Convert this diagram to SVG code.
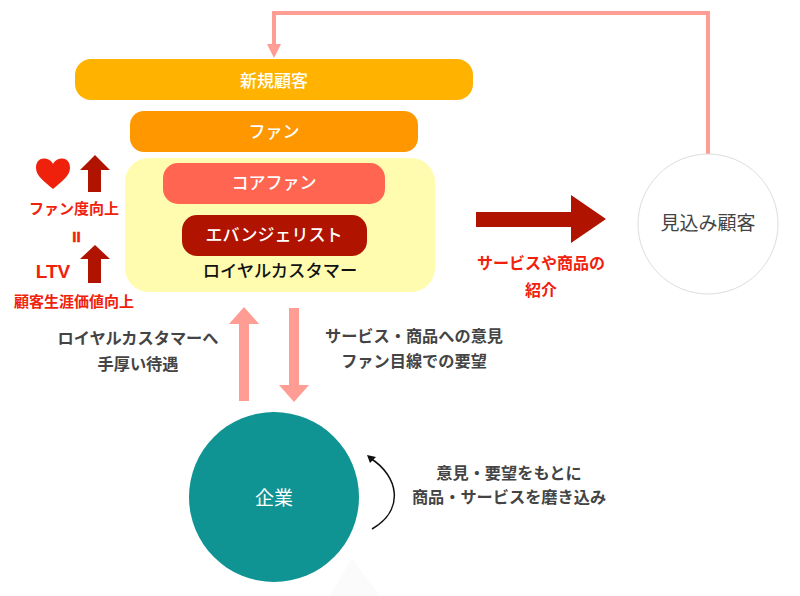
<svg xmlns="http://www.w3.org/2000/svg" width="800" height="596" viewBox="0 0 800 596">
<style>
text{font-family:"Noto Sans CJK JP","Liberation Sans",sans-serif;text-anchor:middle}
.w{fill:#fff;font-size:17px;font-weight:500}
.g{fill:#444;font-size:16.2px;font-weight:700}
.r{fill:#f0210c;font-size:15px;font-weight:700}
</style>
<rect width="800" height="596" fill="#fff"/>
<polygon points="352,558 330,596 380,596" fill="#fbfbfb"/>
<g id="connectors">
<path d="M708,156V13H274V48" fill="none" stroke="#ff9c94" stroke-width="4"/>
<polygon points="267,44 281,44 274,58" fill="#ff9c94"/>
<polygon points="476,212 571,212 571,195 606,219 571,243 571,227 476,227" fill="#b01300"/>
<polygon points="239,401 249,401 249,324 259,324 244,307 229,324 239,324" fill="#ff9c94"/>
<polygon points="289,308 299,308 299,385 309,385 294,402 279,385 289,385" fill="#ff9c94"/>
<polygon points="88,192 101,192 101,170 110,170 95,155 80,170 88,170" fill="#b01300"/>
<polygon points="88,283 101,283 101,259 110,259 95,245 80,259 88,259" fill="#b01300"/>
<path d="M372,529C405,510 399,476 370,458" fill="none" stroke="#111" stroke-width="1.5"/>
<polygon points="367,455 376,457 370,463" fill="#111"/>
</g>
<g id="new-customer"><rect x="75" y="59" width="398" height="41" rx="16" fill="#ffb300"/><text class="w" x="274" y="87">新規顧客</text></g>
<g id="fan"><rect x="130" y="111" width="288" height="41" rx="14" fill="#ff9800"/><text class="w" x="274" y="138">ファン</text></g>
<g id="loyal"><rect x="125" y="158" width="310" height="134" rx="24" fill="#fffcb0"/><text x="280" y="277" font-size="17.3" font-weight="500" fill="#111">ロイヤルカスタマー</text></g>
<g id="core-fan"><rect x="163" y="163" width="222" height="41" rx="15" fill="#ff6550"/><text class="w" x="274" y="189">コアファン</text></g>
<g id="evangelist"><rect x="182" y="215" width="185" height="41" rx="15" fill="#b01300"/><text class="w" x="274" y="241">エバンジェリスト</text></g>
<g id="prospect"><circle cx="708" cy="224" r="70" fill="#fff" stroke="#ddd"/><text x="708" y="230" font-size="19" fill="#444">見込み顧客</text></g>
<g id="company"><circle cx="274" cy="497" r="85" fill="#109393"/><text x="274" y="505" font-size="19" fill="#fff">企業</text></g>
<g id="labels">
<path d="M53,189C44,181 36,176 36,168C36,155 50,157 53,164C56,157 70,155 70,168C70,176 62,181 53,189Z" fill="#f0210c"/>
<text class="r" x="74" y="214">ファン度向上</text>
<text x="76.500" y="242" font-size="15" font-weight="700" fill="#f0210c" stroke="#f0210c" stroke-width=".5" style="font-family:'Liberation Sans'">II</text>
<text x="53" y="278" font-size="19" font-weight="700" fill="#f0210c" style="font-family:'Liberation Sans'">LTV</text>
<text class="r" x="74" y="307">顧客生涯価値向上</text>
<text class="r" x="541" y="269" style="font-size:16px">サービスや商品の</text>
<text class="r" x="541" y="296" style="font-size:16px">紹介</text>
<text class="g" x="138" y="344">ロイヤルカスタマーへ</text>
<text class="g" x="138" y="370">手厚い待遇</text>
<text class="g" x="414" y="342">サービス・商品への意見</text>
<text class="g" x="414" y="367">ファン目線での要望</text>
<text class="g" x="509" y="479">意見・要望をもとに</text>
<text class="g" x="509" y="503">商品・サービスを磨き込み</text>
</g>
</svg>
